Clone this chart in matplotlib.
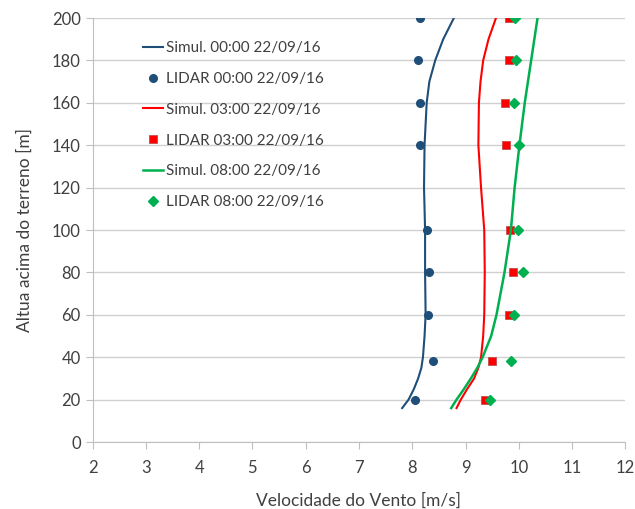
import matplotlib.pyplot as plt

plt.rcParams['font.family'] = ['Lato', 'DejaVu Sans']

# LIDAR heights [m]
lidar_h = [20, 38, 60, 80, 100, 140, 160, 180, 200]
lidar_00 = [8.06, 8.38, 8.29, 8.32, 8.28, 8.15, 8.15, 8.11, 8.14]
lidar_03 = [9.36, 9.49, 9.81, 9.89, 9.83, 9.76, 9.74, 9.81, 9.82]
lidar_08 = [9.46, 9.85, 9.91, 10.08, 9.98, 10.00, 9.90, 9.94, 9.93]

# simulated profiles
sim_h = [16, 20, 25, 30, 35, 40, 50, 60, 80, 100, 120, 140, 160, 170, 180, 190, 200]
sim_00 = [7.81, 7.93, 8.03, 8.11, 8.17, 8.20, 8.23, 8.25, 8.24, 8.24, 8.22, 8.23, 8.27,
          8.32, 8.43, 8.58, 8.78]
sim_03 = [8.83, 8.91, 9.03, 9.16, 9.24, 9.29, 9.33, 9.35, 9.36, 9.35, 9.29, 9.24, 9.25,
          9.28, 9.33, 9.43, 9.57]
sim_08 = [8.73, 8.83, 8.97, 9.10, 9.22, 9.32, 9.48, 9.58, 9.73, 9.85, 9.92, 10.01, 10.11,
          10.17, 10.23, 10.29, 10.35]

blue = '#1F4E79'
red = '#FF0000'
green = '#00B050'

fig = plt.figure(figsize=(6.35, 5.09), dpi=100)
ax = fig.add_axes([0.1457, 0.1316, 0.8393, 0.833])

ax.plot(sim_00, sim_h, color=blue, lw=1.5, label='Simul. 00:00 22/09/16')
ax.plot(lidar_00, lidar_h, 'o', color=blue, ms=5.5, ls='none', label='LIDAR 00:00 22/09/16')
ax.plot(sim_03, sim_h, color=red, lw=1.5, label='Simul. 03:00 22/09/16')
ax.plot(lidar_03, lidar_h, 's', color=red, mec='#C0504D', mew=0.6, ms=5.5, ls='none',
        label='LIDAR 03:00 22/09/16')
ax.plot(sim_08, sim_h, color=green, lw=1.8, label='Simul. 08:00 22/09/16')
ax.plot(lidar_08, lidar_h, 'D', color=green, ms=5, ls='none', label='LIDAR 08:00 22/09/16')

ax.set_xlim(2, 12)
ax.set_ylim(0, 200)
ax.set_xticks(range(2, 13))
ax.set_yticks(range(0, 201, 20))
ax.grid(axis='y', color='#D0D0D0', lw=1)
ax.set_axisbelow(True)
for s in ['top', 'right']:
    ax.spines[s].set_visible(False)
for s in ['left', 'bottom']:
    ax.spines[s].set_color('#BFBFBF')
ax.tick_params(colors='#BFBFBF', labelcolor='#404040', labelsize=12, length=5, direction='out')
ax.tick_params(axis='x', pad=8)

ax.set_xlabel('Velocidade do Vento [m/s]', fontsize=12.5, color='#404040', labelpad=12)
ax.set_ylabel('Altua acima do terreno [m]', fontsize=12.5, color='#404040', labelpad=14)

leg = ax.legend(loc='upper left', bbox_to_anchor=(0.083, 0.96), frameon=False, fontsize=11,
                handlelength=1.3, handletextpad=0.2, labelspacing=1.1, borderaxespad=0)
for t in leg.get_texts():
    t.set_color('#404040')

fig.savefig('out.png', dpi=100)
